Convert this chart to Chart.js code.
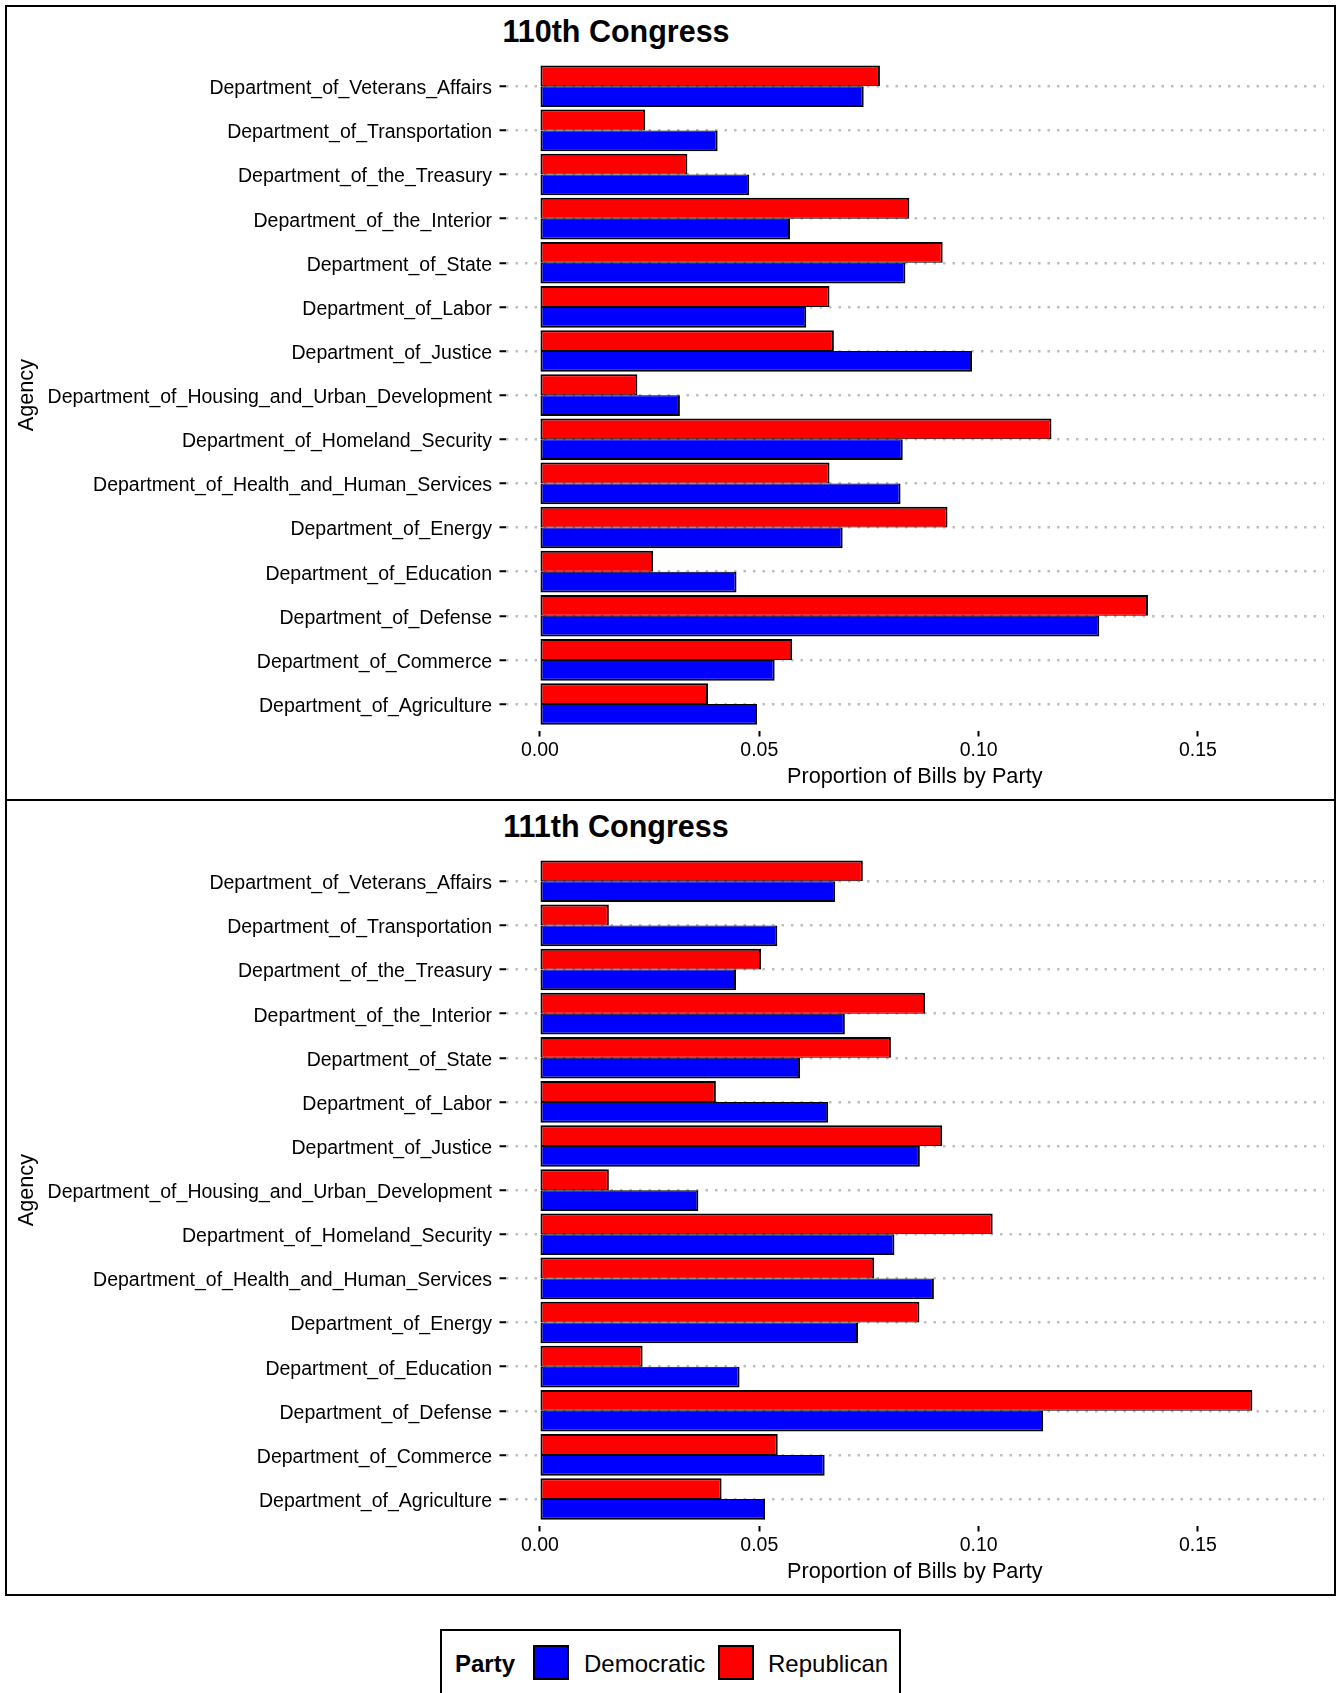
<!DOCTYPE html>
<html>
<head>
<meta charset="utf-8">
<title>Proportion of Bills by Party, 110th and 111th Congress</title>
<script src="https://cdn.jsdelivr.net/npm/chart.js@4/dist/chart.umd.min.js"></script>
<style>
  html, body { margin: 0; padding: 0; background: #fff; overflow: hidden; }
  body { width: 1339px; height: 1693px; position: relative;
         font-family: "Liberation Sans", Arial, Helvetica, sans-serif; color: #000; }
  .frame { position: absolute; left: 5px; top: 5px; width: 1331px; height: 1591px;
           border: 2px solid #000; box-sizing: border-box; }
  .divider { position: absolute; left: 5px; top: 799px; width: 1331px; height: 2px; background: #000; }
  .panel { position: absolute; left: 7px; }
  .ptitle { position: absolute; left: 416px; width: 400px; text-align: center;
            font-weight: bold; font-size: 30.5px; line-height: 30px; white-space: nowrap; }
  .legend { position: absolute; left: 440px; top: 1629px; width: 461px; height: 90px;
            border: 2px solid #000; box-sizing: border-box; }
  .legend span { position: absolute; white-space: nowrap; }
  .lg-text { font-size: 24px; line-height: 24px; top: 21px; }
  .lg-head { font-weight: bold; }
  .sw { top: 14px; width: 36px; height: 35px; border: 2px solid #000; box-sizing: border-box; }
</style>
</head>
<body>
<div class="frame"></div>
<div class="divider"></div>

<div class="ptitle" style="top:16px">110th Congress</div>
<canvas id="c110" class="panel" style="top:7px" width="1327" height="792"></canvas>

<div class="ptitle" style="top:811px">111th Congress</div>
<canvas id="c111" class="panel" style="top:802px" width="1327" height="792"></canvas>

<div class="legend">
  <span class="lg-text lg-head" style="left:13px">Party</span>
  <span class="sw" style="left:91px;background:#0000FF"></span>
  <span class="lg-text" style="left:142px">Democratic</span>
  <span class="sw" style="left:276px;background:#FF0000"></span>
  <span class="lg-text" style="left:326px">Republican</span>
</div>

<script>
// Agencies, listed top to bottom
const agencies = [
  "Department_of_Veterans_Affairs",
  "Department_of_Transportation",
  "Department_of_the_Treasury",
  "Department_of_the_Interior",
  "Department_of_State",
  "Department_of_Labor",
  "Department_of_Justice",
  "Department_of_Housing_and_Urban_Development",
  "Department_of_Homeland_Security",
  "Department_of_Health_and_Human_Services",
  "Department_of_Energy",
  "Department_of_Education",
  "Department_of_Defense",
  "Department_of_Commerce",
  "Department_of_Agriculture"
];

// Proportion of each party's bills referred to each agency
const rep110 = [0.0775, 0.0240, 0.0336, 0.0842, 0.0918, 0.0660, 0.0670, 0.0222, 0.1166, 0.0660, 0.0929, 0.0258, 0.1386, 0.0575, 0.0383];
const dem110 = [0.0738, 0.0405, 0.0477, 0.0570, 0.0833, 0.0607, 0.0985, 0.0319, 0.0827, 0.0822, 0.0690, 0.0448, 0.1275, 0.0535, 0.0495];
const rep111 = [0.0736, 0.0157, 0.0504, 0.0878, 0.0800, 0.0401, 0.0917, 0.0157, 0.1032, 0.0762, 0.0865, 0.0234, 0.1624, 0.0542, 0.0414];
const dem111 = [0.0673, 0.0541, 0.0447, 0.0695, 0.0593, 0.0657, 0.0866, 0.0361, 0.0808, 0.0898, 0.0725, 0.0455, 0.1147, 0.0649, 0.0513];

const xTickValues = [0.00, 0.05, 0.10, 0.15];

const FONT = '"Liberation Sans", Arial, Helvetica, sans-serif';
const RED = '#FF0000';
const BLUE = '#0000FF';

// Upper bar of each pair keeps a thin lower edge, the lower bar a thin upper edge,
// so the shared edge between them reads as a single outline.
function barSet(label, data, color, upper) {
  return {
    label: label,
    data: data,
    backgroundColor: color,
    borderColor: '#000',
    borderWidth: upper ? { top: 2, bottom: 1, left: 2, right: 2 }
                       : { top: 1, bottom: 2, left: 2, right: 2 },
    borderSkipped: false,
    categoryPercentage: 0.945,
    barPercentage: 1.0
  };
}

function congressChart(canvasId, dem, rep) {
  return new Chart(document.getElementById(canvasId), {
    type: 'bar',
    data: {
      labels: agencies,
      datasets: [barSet('Republican', rep, RED, true), barSet('Democratic', dem, BLUE, false)]
    },
    options: {
      indexAxis: 'y',
      responsive: false,
      animation: false,
      events: [],
      layout: { padding: { left: 0, top: 52.8, right: 10, bottom: 0 } },
      plugins: { legend: { display: false }, tooltip: { enabled: false }, title: { display: false } },
      scales: {
        x: {
          type: 'linear',
          min: -0.00786,
          max: 0.17873,
          afterBuildTicks: s => { s.ticks = xTickValues.map(v => ({ value: v })); },
          afterFit: s => { s.height = 68.5; },
          grid: { display: true, drawOnChartArea: false, drawTicks: true, tickLength: 6,
                  tickWidth: 2, tickColor: '#000' },
          border: { display: false },
          ticks: { color: '#000', font: { family: FONT, size: 19.5 }, padding: 2,
                   autoSkip: false, maxRotation: 0, callback: v => Number(v).toFixed(2) },
          title: { display: true, text: 'Proportion of Bills by Party', color: '#000',
                   font: { family: FONT, size: 21.7 }, padding: { top: 0, bottom: 9 } }
        },
        y: {
          type: 'category',
          offset: true,
          // discrete axis padded by 0.6 of a category at each end
          afterBuildTicks: s => { s._startValue = -0.6; s._valueRange = agencies.length - 1 + 1.2; },
          afterFit: s => { s.width = 498.5; },
          grid: { display: true, drawOnChartArea: true, offset: false, color: '#bebebe', lineWidth: 2.5,
                  drawTicks: true, tickLength: 6, tickWidth: 2, tickColor: '#000', tickBorderDash: [] },
          border: { display: false, dash: [2.5, 7] },
          ticks: { color: '#000', font: { family: FONT, size: 19.5 }, padding: 7.5, autoSkip: false,
                   labelOffset: 2.5 },
          title: { display: true, text: 'Agency', color: '#000',
                   font: { family: FONT, size: 21.7 }, padding: { top: 7, bottom: 0 } }
        }
      }
    }
  });
}

congressChart('c110', dem110, rep110);
congressChart('c111', dem111, rep111);
</script>
</body>
</html>
